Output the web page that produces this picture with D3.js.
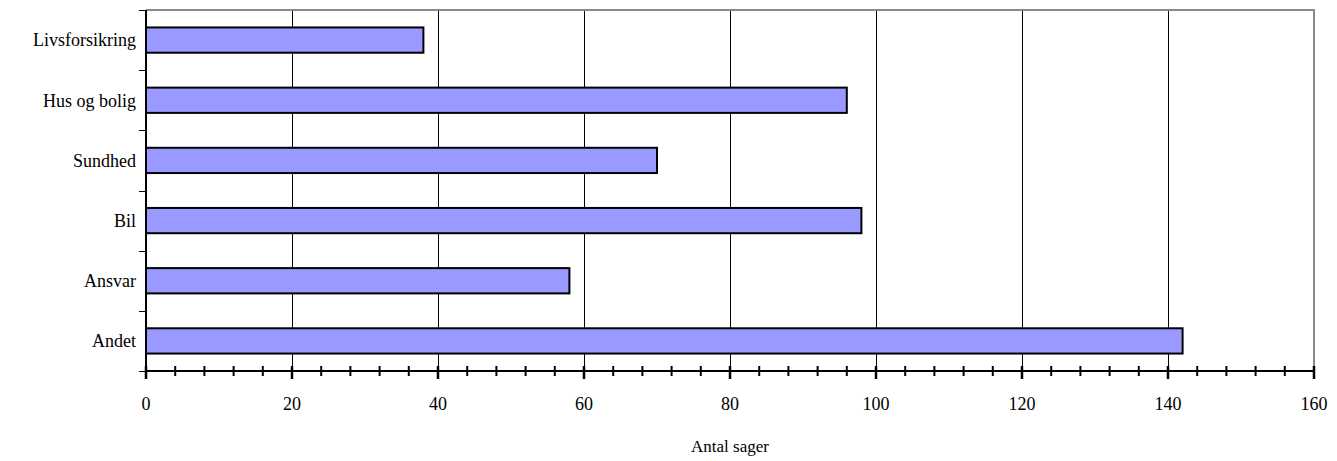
<!DOCTYPE html>
<html>
<head>
  <meta charset="UTF-8">
  <style>
    body { margin: 0; background: #fff; }
  </style>
</head>
<body>
  <svg></svg>
  <script src="https://d3js.org/d3.v7.min.js"></script>
  <script>
    let width = 1337, height = 461;

    // data
    let categories = ["Livsforsikring", "Hus og bolig", "Sundhed", "Bil", "Ansvar", "Andet"];
    let values = [38, 96, 70, 98, 58, 142];
    let xTicks = [0, 20, 40, 60, 80, 100, 120, 140, 160];
    let xTitle = "Antal sager";

    let plotLeft = 146, plotRight = 1314, plotTop = 10, plotBottom = 371;
    let serif = "'Liberation Serif', 'DejaVu Serif', 'Times New Roman', serif";

    let svg = d3.select("svg")
      .attr("width", width)
      .attr("height", height)
      .attr("font-family", serif);

    let x = d3.scaleLinear().domain([0, 160]).range([plotLeft, plotRight]);
    let y = d3.scaleBand().domain(categories).range([plotTop, plotBottom]).paddingInner(0.58).paddingOuter(0.29);

    // grid lines
    svg.append("g")
      .selectAll("line")
      .data(xTicks.slice(1, -1))
      .enter()
      .append("line")
      .attr("x1", d => Math.round(x(d)) + 0.5).attr("x2", d => Math.round(x(d)) + 0.5)
      .attr("y1", plotTop).attr("y2", plotBottom)
      .attr("stroke", "#000")
      .attr("stroke-width", 1);

    // gray frame top and right
    svg.append("path")
      .attr("d", `M${plotLeft},${plotTop}H${plotRight}V${plotBottom}`)
      .attr("fill", "none")
      .attr("stroke", "#888")
      .attr("stroke-width", 2);

    // bars
    svg.append("g")
      .selectAll("rect")
      .data(categories)
      .enter()
      .append("rect")
      .attr("x", plotLeft)
      .attr("y", d => y(d))
      .attr("width", (d, i) => x(values[i]) - plotLeft)
      .attr("height", y.bandwidth())
      .attr("fill", "#9999ff")
      .attr("stroke", "#000")
      .attr("stroke-width", 2);

    // y axis line + ticks at band boundaries
    let step = (plotBottom - plotTop) / categories.length;
    let yAx = svg.append("g");
    yAx.append("line")
      .attr("x1", plotLeft).attr("x2", plotLeft)
      .attr("y1", plotTop).attr("y2", plotBottom)
      .attr("stroke", "#000").attr("stroke-width", 2);
    yAx.selectAll(".yt")
      .data(d3.range(categories.length + 1))
      .enter()
      .append("line")
      .attr("x1", plotLeft - 7).attr("x2", plotLeft)
      .attr("y1", d => Math.round(plotTop + d * step) + 0.5).attr("y2", d => Math.round(plotTop + d * step) + 0.5)
      .attr("stroke", "#000").attr("stroke-width", 1);
    yAx.selectAll("text")
      .data(categories)
      .enter()
      .append("text")
      .attr("x", plotLeft - 10)
      .attr("y", d => y(d) + y.bandwidth() / 2)
      .attr("dy", "0.35em")
      .attr("text-anchor", "end")
      .attr("font-size", 18)
      .attr("fill", "#000")
      .text(d => d);

    // x axis
    let xAx = svg.append("g");
    xAx.append("line")
      .attr("x1", plotLeft).attr("x2", plotRight)
      .attr("y1", plotBottom).attr("y2", plotBottom)
      .attr("stroke", "#000").attr("stroke-width", 2);
    let minor = d3.range(0, 161, 4).filter(d => d % 20 !== 0);
    xAx.selectAll(".mn")
      .data(minor)
      .enter()
      .append("line")
      .attr("x1", d => x(d)).attr("x2", d => x(d))
      .attr("y1", plotBottom - 5).attr("y2", plotBottom + 5)
      .attr("stroke", "#000").attr("stroke-width", 2);
    xAx.selectAll(".mj")
      .data(xTicks)
      .enter()
      .append("line")
      .attr("x1", d => x(d)).attr("x2", d => x(d))
      .attr("y1", plotBottom - 5).attr("y2", plotBottom + 8)
      .attr("stroke", "#000").attr("stroke-width", 2.5);
    xAx.selectAll("text")
      .data(xTicks)
      .enter()
      .append("text")
      .attr("x", d => x(d))
      .attr("y", 410)
      .attr("text-anchor", "middle")
      .attr("font-size", 18)
      .attr("fill", "#000")
      .text(d => d);

    svg.append("text")
      .attr("x", (plotLeft + plotRight) / 2)
      .attr("y", 452)
      .attr("text-anchor", "middle")
      .attr("font-size", 17)
      .attr("fill", "#000")
      .text(xTitle);
  </script>
</body>
</html>
